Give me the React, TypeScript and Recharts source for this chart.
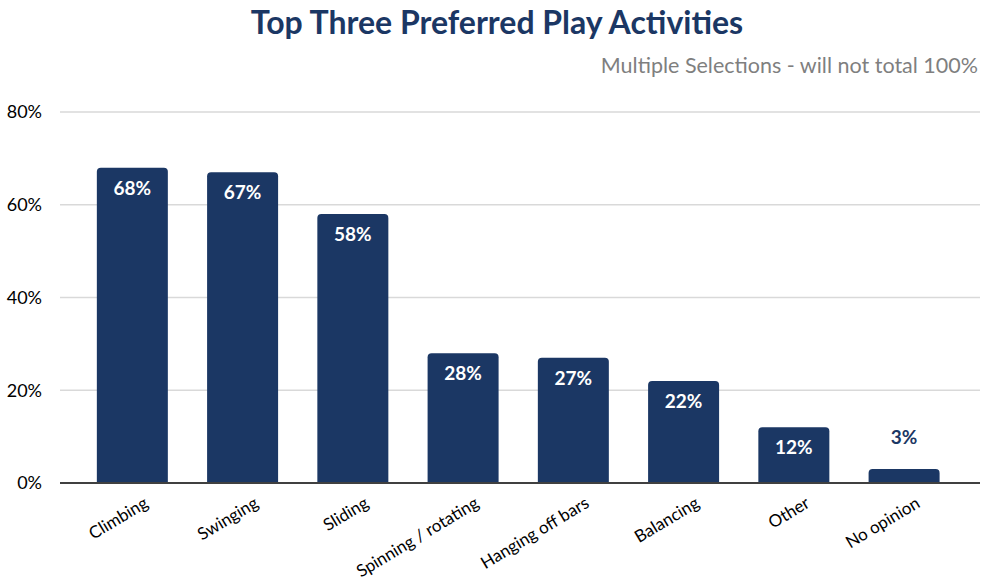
import React from "react";
import { Bar, BarChart, CartesianGrid, LabelList, XAxis, YAxis } from "recharts";

const activities = [
  "Climbing",
  "Swinging",
  "Sliding",
  "Spinning / rotating",
  "Hanging off bars",
  "Balancing",
  "Other",
  "No opinion",
];
const shares = [68, 67, 58, 28, 27, 22, 12, 3];
const yTicks = [0, 20, 40, 60, 80];

const data = activities.map((name, i) => ({ name, value: shares[i] }));

const NAVY = "#1b3764";
const FONT = "Lato, 'Open Sans', sans-serif";

function AngledTick(props: any) {
  const { x, y, payload } = props;
  return (
    <g transform={`translate(${x + 11},${y + 5})`}>
      <text transform="rotate(-31)" textAnchor="end" dy={12} fontSize={17} fill="#000" fontFamily={FONT}>
        {payload.value}
      </text>
    </g>
  );
}

function ValueLabel(props: any) {
  const { x, y, width, height, value } = props;
  const cx = x + width / 2;
  if (height < 30) {
    return (
      <text x={cx} y={y - 25} textAnchor="middle" fontSize={19} fontWeight={700} fill={NAVY} fontFamily={FONT}>
        {value}%
      </text>
    );
  }
  return (
    <text x={cx} y={y + 27} textAnchor="middle" fontSize={19} fontWeight={700} fill="#fff" fontFamily={FONT}>
      {value}%
    </text>
  );
}

export default function App() {
  return (
    <div style={{ position: "absolute", left: 0, top: 0, width: 982, height: 586, background: "#fff", fontFamily: FONT }}>
      <div style={{ position: "absolute", left: 0, width: 994, top: 2, textAlign: "center", fontSize: 32, fontWeight: 700, color: NAVY }}>
        Top Three Preferred Play Activities
      </div>
      <div style={{ position: "absolute", right: 4, top: 52, fontSize: 21.5, color: "#7f7f7f" }}>
        Multiple Selections - will not total 100%
      </div>
      <BarChart
        width={982}
        height={586}
        data={data}
        margin={{ top: 112, right: 2, bottom: 0, left: 0 }}
        barCategoryGap="18%"
      >
        <CartesianGrid vertical={false} stroke="#d9d9d9" strokeWidth={1.5} />
        <XAxis
          dataKey="name"
          interval={0}
          tickLine={false}
          axisLine={{ stroke: "#404040", strokeWidth: 2 }}
          padding={{ left: 17, right: 21 }}
          tick={<AngledTick />}
          height={103}
        />
        <YAxis
          domain={[0, 80]}
          ticks={yTicks}
          width={60}
          tickLine={false}
          axisLine={false}
          tickMargin={12}
          tickFormatter={(v) => `${v}%`}
          tick={{ fontSize: 18, fill: "#000", fontFamily: FONT }}
        />
        <Bar dataKey="value" fill={NAVY} radius={[4, 4, 0, 0]} isAnimationActive={false}>
          <LabelList dataKey="value" content={<ValueLabel />} />
        </Bar>
      </BarChart>
    </div>
  );
}
